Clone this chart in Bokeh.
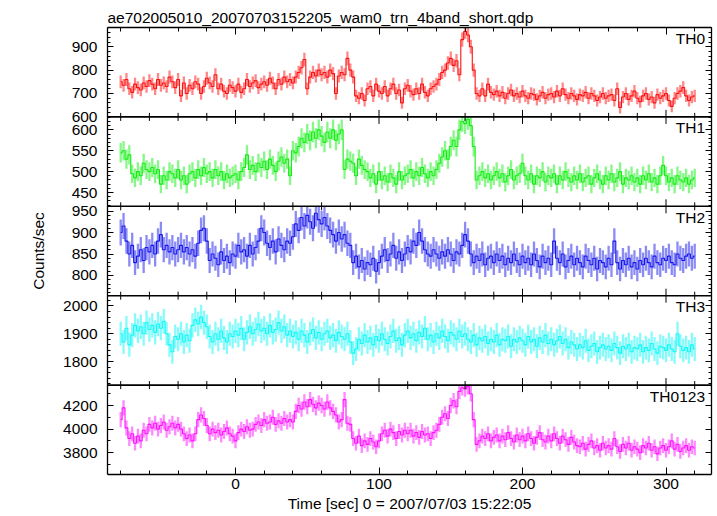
import numpy as np
from bokeh.plotting import figure
from bokeh.models import (Range1d, SingleIntervalTicker, FixedTicker, LinearAxis, Label,
                          CustomJSTickFormatter, Span, Title)
from bokeh.embed import file_html
from bokeh.resources import INLINE

# ---------------- data ----------------
title_text = "ae702005010_20070703152205_wam0_trn_4band_short.qdp"
x_label = "Time [sec] 0 = 2007/07/03 15:22:05"
y_label = "Counts/sec"
band_names = ["TH0", "TH1", "TH2", "TH3", "TH0123"]
band_colors = ["#ff1010", "#10f010", "#1818ee", "#10f8f8", "#ff10ff"]

time_first, time_last, time_bin = -80, 320, 2
time = np.arange(time_first, time_last + time_bin, time_bin)

th0 = [
    750, 735, 760, 720, 705, 740, 725, 715, 745, 730,
    755, 740, 720, 760, 735, 745, 730, 770, 750, 725,
    760, 690, 745, 700, 735, 720, 750, 740, 700, 730,
    765, 745, 730, 780, 720, 740, 710, 700, 735, 725,
    710, 740, 705, 720, 760, 730, 745, 755, 725, 740,
    750, 735, 765, 745, 720, 760, 740, 770, 750, 760,
    745, 770, 790, 810, 845, 720, 770, 790, 775, 800,
    780, 790, 770, 800, 785, 700, 775, 790, 780, 850,
    800, 770, 690, 680, 700, 670, 720, 730, 690, 740,
    710, 700, 730, 690, 720, 740, 700, 715, 660, 720,
    735, 710, 695, 720, 700, 740, 705, 690, 720, 730,
    740, 760, 790, 800, 830, 850, 820, 840, 780, 930,
    965, 950, 900, 800, 700, 690, 720, 690, 740, 705,
    695, 710, 690, 705, 680, 700, 715, 690, 700, 685,
    710, 690, 680, 700, 695, 675, 690, 705, 680, 695,
    700, 685, 710, 690, 720, 695, 680, 700, 690, 675,
    695, 690, 705, 680, 700, 690, 670, 685, 700, 680,
    690, 695, 670, 720, 640, 685, 700, 675, 690, 710,
    680, 665, 690, 700, 675, 685, 660, 695, 680, 690,
    700, 670, 645, 680, 700, 710, 725, 690, 670, 685,
    690,
]

th1 = [
    545, 550, 530, 540, 495, 485, 500, 490, 520, 505,
    500, 510, 495, 505, 470, 490, 480, 500, 495, 485,
    505, 480, 490, 470, 495, 500, 485, 505, 490, 510,
    495, 500, 485, 505, 490, 500, 480, 495, 485, 490,
    495, 480, 500, 510, 540, 505, 515, 500, 520, 510,
    525, 505, 530, 515, 500, 525, 535, 520, 530, 490,
    550, 545, 560, 580, 570, 590, 575, 595, 580, 600,
    585, 570, 595, 580, 600, 575, 590, 600, 505, 530,
    525, 520, 490, 530, 515, 505, 500, 485, 495, 470,
    500, 480, 490, 475, 495, 485, 470, 500, 480, 490,
    495, 505, 485, 500, 490, 510, 495, 485, 500, 490,
    505, 520, 535, 550, 530, 560, 575, 560, 600, 620,
    615, 625, 610, 560, 480, 490, 500, 485, 495, 480,
    490, 500, 485, 495, 475, 490, 505, 480, 490, 495,
    520, 490, 480, 495, 470, 490, 485, 500, 475, 490,
    485, 495, 470, 490, 480, 500, 485, 475, 490, 480,
    495, 475, 485, 490, 470, 485, 495, 480, 470, 490,
    480, 495, 475, 485, 500, 470, 485, 480, 490, 475,
    485, 470, 490, 480, 495, 475, 485, 470, 490, 515,
    490, 475, 485, 470, 490, 480, 475, 485, 470, 480,
    485,
]

th2 = [
    900, 915, 880, 850, 870, 830, 845, 860, 835, 865,
    855, 870, 850, 880, 895, 860, 870, 855, 865, 850,
    860, 870, 855, 865, 850, 860, 845, 875, 905, 910,
    880, 835, 850, 840, 825, 855, 835, 845, 830, 850,
    845, 870, 855, 860, 845, 870, 850, 865, 880, 910,
    900, 875, 865, 880, 855, 885, 870, 860, 880, 875,
    890, 920, 905, 935, 915, 940, 925, 910, 945, 930,
    920, 935, 915, 905, 895, 880, 900, 885, 895, 875,
    870, 830, 845, 820, 835, 815, 830, 825, 840, 810,
    830, 845, 860, 835, 850, 870, 840, 855, 835, 850,
    865, 855, 880, 870, 900, 880, 860, 850, 845, 860,
    850, 840, 855, 845, 860, 850, 835, 855, 850, 870,
    895, 880, 850, 830, 845, 835, 850, 825, 840, 845,
    830, 850, 835, 845, 825, 840, 830, 850, 835, 825,
    845, 830, 840, 825, 850, 835, 820, 845, 830, 840,
    825, 880, 840, 830, 850, 820, 835, 845, 825, 840,
    830, 820, 845, 835, 825, 840, 815, 835, 830, 820,
    840, 825, 880, 830, 815, 835, 825, 840, 820, 830,
    815, 835, 825, 840, 830, 820, 845, 830, 825, 840,
    835, 845, 830, 825, 850, 840, 835, 845, 850, 840,
    845,
]

th3 = [
    1900, 1870, 1920, 1860, 1895, 1930, 1910, 1925, 1900, 1940,
    1915, 1930, 1905, 1935, 1920, 1945, 1900, 1860, 1835, 1890,
    1880, 1900, 1870, 1895, 1875, 1930, 1950, 1935, 1960, 1940,
    1925, 1890, 1870, 1900, 1880, 1910, 1885, 1870, 1900, 1890,
    1910, 1895, 1920, 1880, 1905, 1925, 1900, 1915, 1935, 1910,
    1920, 1900, 1930, 1905, 1915, 1940, 1910, 1925, 1895, 1910,
    1890, 1905, 1880, 1910, 1895, 1870, 1900, 1915, 1885, 1905,
    1880, 1900, 1910, 1885, 1895, 1875, 1905, 1890, 1880, 1900,
    1870, 1830, 1845, 1880, 1865, 1895, 1870, 1885, 1860, 1890,
    1875, 1900, 1880, 1865, 1890, 1910, 1875, 1885, 1860, 1895,
    1910, 1885, 1900, 1875, 1905, 1890, 1920, 1880, 1895, 1870,
    1900, 1885, 1910, 1890, 1875, 1905, 1895, 1880, 1910, 1890,
    1900, 1880, 1870, 1895, 1860, 1885, 1875, 1890, 1865, 1880,
    1870, 1895, 1860, 1880, 1875, 1890, 1855, 1880, 1870, 1885,
    1875, 1860, 1890, 1870, 1880, 1855, 1885, 1870, 1895, 1865,
    1880, 1860, 1875, 1890, 1865, 1880, 1850, 1870, 1860, 1845,
    1860, 1850, 1875, 1840, 1855, 1865, 1835, 1850, 1860, 1845,
    1855, 1840, 1865, 1850, 1830, 1855, 1845, 1860, 1835, 1850,
    1845, 1860, 1835, 1850, 1840, 1865, 1845, 1830, 1855, 1850,
    1840, 1860, 1845, 1835, 1900, 1855, 1840, 1850, 1835, 1860,
    1845,
]

th0123 = [
    4080, 4180, 4010, 3920, 3960, 3880, 3940, 3900, 3990, 3960,
    4040, 4010, 4050, 4000, 4030, 4060, 3990, 4020, 4050, 4010,
    4040, 4000, 3960, 3920, 3950, 3900, 3960, 4080, 4120, 4090,
    4030, 3960, 4000, 3970, 3990, 3950, 3980, 4010, 3960, 3940,
    3900, 3970, 4000, 3980, 4020, 3990, 4000, 4040, 4060, 4030,
    4080, 4050, 4060, 4100, 4040, 4070, 4050, 4090, 4060, 4080,
    4060, 4150, 4200, 4170, 4230, 4190, 4250, 4210, 4180, 4220,
    4200, 4170, 4230, 4180, 4150, 4120, 4060, 4080, 4250, 4050,
    4040, 3920, 3880, 3940, 3860, 3900, 3870, 3920, 3890, 3850,
    3900, 3960, 3990, 3940, 4000, 3970, 3920, 3980, 3950, 3990,
    3960, 3990, 3940, 3970, 3930, 3980, 3950, 3960, 3920, 3970,
    3990, 4040, 4100, 4130, 4090, 4200, 4240, 4190, 4320, 4350,
    4340, 4360, 4300, 4080, 3870, 3900, 3940, 3920, 3960, 3900,
    3930, 3950, 3900, 3940, 3910, 3970, 3920, 3890, 3950, 3910,
    3940, 3900, 3960, 3920, 3880, 3930, 3970, 3910, 3890, 3940,
    3900, 3960, 3920, 3880, 3940, 3910, 3870, 3930, 3890, 3860,
    3850, 3880, 3830, 3870, 3900, 3840, 3860, 3820, 3880, 3840,
    3860, 3830, 3920, 3850, 3810, 3870, 3840, 3880, 3820, 3850,
    3830, 3800, 3860, 3840, 3880, 3820, 3850, 3790, 3840, 3860,
    3820, 3850, 3900, 3830, 3870, 3810, 3840, 3860, 3820, 3850,
    3840,
]

band_values = [th0, th1, th2, th3, th0123]
y_ranges = [(600, 982), (417, 631), (753, 961), (1715, 2037), (3615, 4373)]
y_major = [100, 50, 50, 100, 200]
y_minor_step = [20, 10, 10, 20, 100]
x_range_lim = (-89.2, 331.7)
x_major, x_minor_step = 100, 20

# ---------------- layout ----------------
FONT = "Liberation Sans"
FS = "15.5px"
W, H = 717, 516
LEFT, RIGHT, TOP, BOTTOM = 107, 6, 27, 42
FRAME_W = W - LEFT - RIGHT
FRAME_H = H - TOP - BOTTOM
N = len(band_names)
px_y = FRAME_H / N                      # pixels per panel unit
px_x = FRAME_W / (x_range_lim[1] - x_range_lim[0])

p = figure(width=W, height=H, x_range=Range1d(*x_range_lim), y_range=Range1d(0, N),
           output_backend="svg", toolbar_location=None,
           x_axis_type=None, y_axis_type=None,
           min_border_left=LEFT, min_border_right=RIGHT,
           min_border_top=TOP, min_border_bottom=BOTTOM)
p.grid.visible = False
p.outline_line_color = None
p.background_fill_color = "white"
p.border_fill_color = "white"

major_pos, major_txt, minor_pos = [], [], []
for i in range(N):
    y0, y1 = y_ranges[i]
    S = y1 - y0
    base = N - 1 - i
    p.extra_y_ranges[f"b{i}"] = Range1d(start=y0 - base * S, end=y1 + i * S)
    vals = np.array(band_values[i], dtype=float)
    assert len(vals) == len(time), (band_names[i], len(vals))
    err = np.sqrt(vals)
    col = band_colors[i]
    p.segment(x0=time, y0=np.clip(vals - err, y0, y1), x1=time, y1=np.clip(vals + err, y0, y1),
              line_color=col, line_alpha=0.5, line_width=2.3, y_range_name=f"b{i}")
    p.step(time, vals, mode="center", line_color=col, line_width=1.1, y_range_name=f"b{i}")

    # tick positions of this panel, in panel units of the main axis
    for v in np.arange(np.ceil(y0 / y_major[i]) * y_major[i], y1 + 1e-9, y_major[i]):
        major_pos.append(base + (v - y0) / S)
        major_txt.append(str(int(round(v))))
    for v in np.arange(np.ceil(y0 / y_minor_step[i]) * y_minor_step[i], y1 + 1e-9, y_minor_step[i]):
        if abs(v / y_major[i] - round(v / y_major[i])) > 1e-9:
            minor_pos.append(base + (v - y0) / S)

    # band name
    p.add_layout(Label(x=x_range_lim[1] - 6.5 / px_x, y=base + 1 - 2.5 / px_y,
                       text=band_names[i], text_align="right", text_baseline="top",
                       text_font=FONT, text_font_size=FS, text_color="black"))


def style(ax, mj, mn):
    ax.major_tick_in = mj
    ax.major_tick_out = 0
    ax.minor_tick_in = mn
    ax.minor_tick_out = 0
    ax.axis_line_color = "black"
    ax.axis_line_width = 1.3
    ax.major_tick_line_color = "black"
    ax.minor_tick_line_color = "black"
    ax.major_label_text_font = FONT
    ax.major_label_text_font_size = FS
    ax.major_label_text_color = "black"
    ax.axis_label_text_font = FONT
    ax.axis_label_text_font_size = FS
    ax.axis_label_text_font_style = "normal"
    ax.axis_label_text_color = "black"


def blank(ax):
    ax.major_label_text_font_size = "0px"
    ax.major_label_standoff = 0
    ax.formatter = CustomJSTickFormatter(code="return ''")


ylab_fmt = CustomJSTickFormatter(args=dict(pos=major_pos, txt=major_txt), code="""
    for (let k = 0; k < pos.length; k++) { if (Math.abs(pos[k] - tick) < 1e-6) return txt[k]; }
    return '';
""")

left = LinearAxis(ticker=FixedTicker(ticks=major_pos, minor_ticks=minor_pos), formatter=ylab_fmt)
style(left, 6, 3)
left.major_label_standoff = 10
left.axis_label = y_label
left.axis_label_standoff = 13
p.add_layout(left, "left")

right = LinearAxis(ticker=FixedTicker(ticks=major_pos, minor_ticks=minor_pos))
style(right, 6, 3)
blank(right)
p.add_layout(right, "right")

above = LinearAxis(ticker=SingleIntervalTicker(interval=x_major, num_minor_ticks=x_major // x_minor_step))
style(above, 7, 4)
blank(above)
p.add_layout(above, "above")

below = LinearAxis(ticker=SingleIntervalTicker(interval=x_major, num_minor_ticks=x_major // x_minor_step))
style(below, 7, 4)
below.major_label_standoff = 4
below.axis_label = x_label
below.axis_label_standoff = 3
p.add_layout(below, "below")

# panel boundaries with their inward ticks on both sides
xt_major = np.arange(np.ceil(x_range_lim[0] / x_major) * x_major, x_range_lim[1], x_major)
xt_minor = np.array([v for v in np.arange(np.ceil(x_range_lim[0] / x_minor_step) * x_minor_step,
                                          x_range_lim[1], x_minor_step) if v % x_major != 0])
for b in range(1, N):
    p.add_layout(Span(location=b, dimension="width", line_color="black", line_width=1.6))
    p.segment(x0=xt_major, y0=b - 7 / px_y, x1=xt_major, y1=b + 7 / px_y, line_color="black", line_width=1)
    p.segment(x0=xt_minor, y0=b - 4 / px_y, x1=xt_minor, y1=b + 4 / px_y, line_color="black", line_width=1)

# title
p.add_layout(Title(text=title_text, align="left", text_font=FONT, text_font_size=FS,
                   text_font_style="normal", text_color="black", standoff=3, offset=0), "above")

open("out.html", "w").write(file_html(p, INLINE))
